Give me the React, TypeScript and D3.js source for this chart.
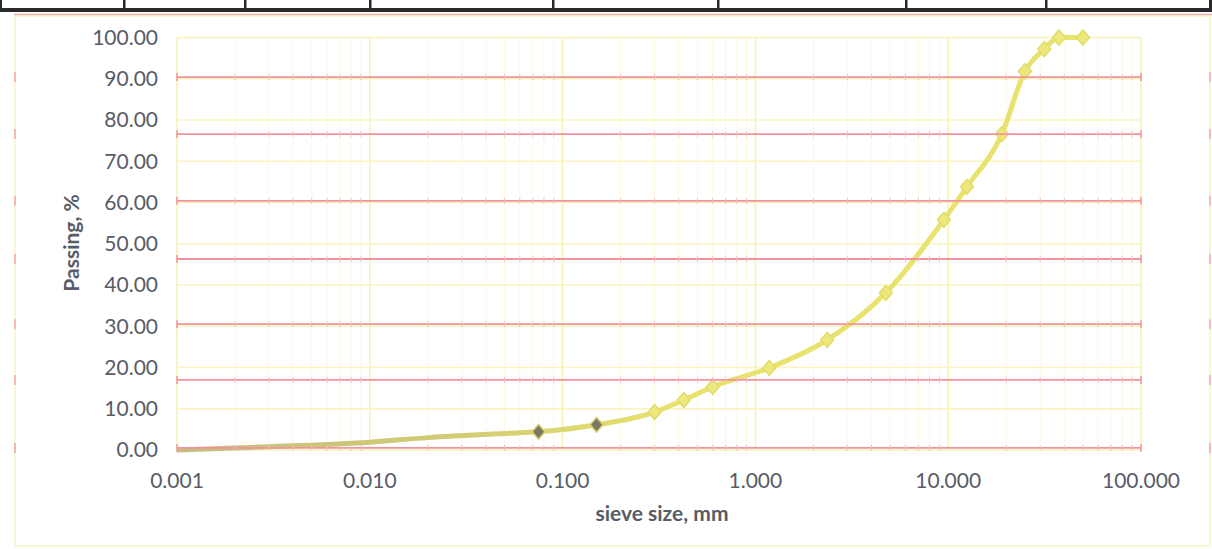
import React from 'react';
import * as d3 from 'd3';

const W = 1212;
const H = 549;

// Hydrometer part of the grading curve (drawn as line only)
const fineSizes = [0.001, 0.003, 0.01, 0.02, 0.05];
const finePassing = [0.0, 0.8, 1.9, 3.0, 4.0];

// Sieve analysis (line with diamond markers)
const sieveSizes = [0.075, 0.15, 0.3, 0.425, 0.6, 1.18, 2.36, 4.75, 9.5, 12.5, 19, 25, 31.5, 37.5, 50];
const sievePassing = [4.4, 6.1, 9.2, 12.1, 15.3, 19.9, 26.7, 38.1, 55.8, 63.8, 76.6, 91.8, 97.2, 100, 100];

// Axis ticks
const xTicks = [0.001, 0.01, 0.1, 1, 10, 100];
const yTicks = [0, 10, 20, 30, 40, 50, 60, 70, 80, 90, 100];

// Red ruling printed over the chart
const redRuleLevels = [90.4, 76.6, 60.4, 46.3, 30.5, 17.0, 0.5];

// Header table column dividers
const tableDividers = [124, 245, 370, 553, 718, 906, 1046];

const FONT = 'Lato, "Open Sans", sans-serif';

export default function App() {
  const x = d3.scaleLog().domain([0.001, 100]).range([177, 1141]);
  const y = d3.scaleLinear().domain([0, 100]).range([450, 37.5]);

  const minorX: number[] = [];
  for (let e = -3; e < 2; e++) {
    for (let m = 2; m <= 9; m++) minorX.push(m * Math.pow(10, e));
  }

  const pts: [number, number][] = [
    ...fineSizes.map((s, i) => [s, finePassing[i]] as [number, number]),
    ...sieveSizes.map((s, i) => [s, sievePassing[i]] as [number, number]),
  ];
  const line = d3
    .line<[number, number]>()
    .x((d) => x(d[0]))
    .y((d) => y(d[1]))
    .curve(d3.curveMonotoneX);

  const [x0, x1] = x.range();
  const [yb, yt] = y.range();
  const diamond = 'M0,-7.5L6.5,0L0,7.5L-6.5,0Z';

  return (
    <svg
      width={W}
      height={H}
      style={{ position: 'absolute', left: 0, top: 0, background: '#fff' }}
      fontFamily={FONT}
    >
      <defs>
        <linearGradient id="curveGrad" gradientUnits="userSpaceOnUse" x1={x(0.001)} x2={x(0.4)} y1={0} y2={0}>
          <stop offset="0" stopColor="#c4bd7e" />
          <stop offset="0.6" stopColor="#d4cd74" />
          <stop offset="1" stopColor="#e8e36c" />
        </linearGradient>
      </defs>

      {/* header table strip */}
      <rect x={0} y={0} width={W} height={12} fill="#fff" />
      <rect x={0} y={8} width={W} height={4} fill="#2a2a2a" />
      <rect x={0} y={0} width={2} height={12} fill="#2a2a2a" />
      <rect x={W - 3} y={0} width={3} height={12} fill="#2a2a2a" />
      {tableDividers.map((d) => (
        <rect key={d} x={d - 1} y={0} width={2.5} height={12} fill="#2a2a2a" />
      ))}
      <line x1={14} x2={W} y1={14.5} y2={14.5} stroke="#f3a6ae" strokeWidth={1.5} />

      {/* chart area border */}
      <rect x={15} y={16} width={1195} height={530} fill="none" stroke="#f7f3c4" strokeWidth={1.5} />

      {/* vertical gridlines */}
      {minorX.map((v) => (
        <line key={'mx' + v} x1={x(v)} x2={x(v)} y1={yt} y2={yb} stroke="#fcfae4" strokeWidth={1} />
      ))}
      {xTicks.map((v) => (
        <line key={'gx' + v} x1={x(v)} x2={x(v)} y1={yt} y2={yb} stroke="#f7f2b4" strokeWidth={1.5} />
      ))}

      {/* horizontal gridlines */}
      {yTicks.map((v) => (
        <line key={'gy' + v} x1={x0} x2={x1} y1={y(v)} y2={y(v)} stroke="#f8f4bc" strokeWidth={1.5} />
      ))}

      {/* grading curve */}
      <path d={line(pts) || ''} fill="none" stroke="url(#curveGrad)" strokeWidth={5} strokeLinejoin="round" />
      {sieveSizes.map((s, i) => (
        <path
          key={'m' + s}
          d={diamond}
          transform={`translate(${x(s)},${y(sievePassing[i])})`}
          fill={i < 2 ? '#7b7a5e' : '#ece87c'}
          stroke={i < 2 ? '#d9d27a' : '#e2dc6a'}
          strokeWidth={1.5}
        />
      ))}

      {/* red ruling over the plot */}
      {redRuleLevels.map((v) => (
        <g key={'r' + v}>
          <line x1={x0} x2={x1} y1={y(v)} y2={y(v)} stroke="#f0939d" strokeWidth={1.8} />
          {minorX.map((m) => (
            <line key={m} x1={x(m)} x2={x(m)} y1={y(v) - 3} y2={y(v) + 3} stroke="#f5bcc1" strokeWidth={1} />
          ))}
          <line x1={x0} x2={x0} y1={y(v) - 4} y2={y(v) + 4} stroke="#f0939d" strokeWidth={1.5} />
          <line x1={x1} x2={x1} y1={y(v) - 4} y2={y(v) + 4} stroke="#f0939d" strokeWidth={1.5} />
          <line x1={15} x2={15} y1={y(v) - 5} y2={y(v) + 5} stroke="#f3a6ae" strokeWidth={1.5} />
          <line x1={1210} x2={1210} y1={y(v) - 5} y2={y(v) + 5} stroke="#f3a6ae" strokeWidth={1.5} />
        </g>
      ))}

      {/* y tick labels */}
      {yTicks.map((v) => (
        <text
          key={'ty' + v}
          x={158}
          y={y(v)}
          dy="0.35em"
          textAnchor="end"
          fontSize={21}
          fill="#585c66"
        >
          {d3.format('.2f')(v)}
        </text>
      ))}

      {/* x tick labels */}
      {xTicks.map((v) => (
        <text key={'tx' + v} x={x(v)} y={481} dy="0.35em" textAnchor="middle" fontSize={21} fill="#585c66">
          {d3.format('.3f')(v)}
        </text>
      ))}

      {/* axis titles */}
      <text x={662} y={514} dy="0.35em" textAnchor="middle" fontSize={21} fontWeight="bold" fill="#585c66">
        sieve size, mm
      </text>
      <text
        transform="translate(72,243) rotate(-90)"
        dy="0.35em"
        textAnchor="middle"
        fontSize={21}
        fontWeight="bold"
        fill="#585c66"
      >
        Passing, %
      </text>
    </svg>
  );
}
